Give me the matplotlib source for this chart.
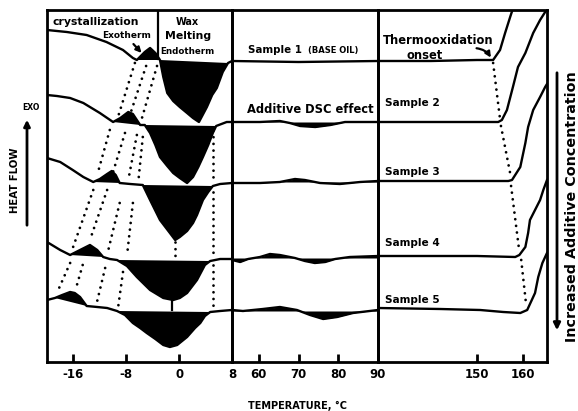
import numpy as np
import matplotlib
matplotlib.use("Agg")
import matplotlib.pyplot as plt
from matplotlib import font_manager

# ---- data (temperature in degC, heat flow in arbitrary units) ----
# panel 1: wax region (-20 .. 8 C)
s1_p1_t = [-20, -17, -14, -11, -8.5, -7, -6.4, -5.2, -4.4, -3.6, -2.9, -2.4, -1.8, -0.9, 0.1, 1.2, 2.1, 3.0, 4.2, 5.0, 5.7, 6.6, 7.4, 8]
s1_p1_hf = [332, 330, 327, 320, 312, 304, 302, 310, 314, 309, 302, 285, 269, 261, 255, 249, 244, 240, 255, 267, 274, 290, 299, 301]
s2_p1_t = [-20, -18.5, -16.5, -14.5, -12, -10, -8.9, -7.7, -7.0, -5.9, -5.2, -4.4, -3.6, -2.9, -1.8, -0.9, 0.1, 1.2, 2.1, 2.9, 3.6, 4.4, 5.1, 5.6, 7.2, 8]
s2_p1_hf = [267, 266, 264, 259, 249, 240, 244, 250, 248, 237, 237, 229, 217, 205, 196, 189, 184, 179, 185, 195, 205, 217, 229, 236, 240, 240]
s3_p1_t = [-20, -18, -16.1, -14.5, -13, -12, -10.9, -10.2, -9.6, -9, -7.4, -5.5, -4.4, -2.9, -1.4, -0.6, 0.1, 1.2, 2.1, 2.7, 3.6, 4.4, 5.1, 6.2, 8]
s3_p1_hf = [204, 200, 192, 185, 180, 183, 188, 191, 187, 179, 178, 177, 162, 142, 129, 122, 125, 131, 139, 147, 162, 170, 176, 178, 179]
s4_p1_t = [-20, -18, -16.5, -15, -13.5, -12.4, -11.5, -10.5, -9.4, -7.9, -6.4, -4.4, -2.4, -0.9, 0.1, 1.2, 2.7, 3.9, 4.7, 6.2, 8]
s4_p1_hf = [120, 112, 107, 112, 117, 112, 105, 103, 102, 96, 85, 72, 64, 62, 64, 69, 82, 97, 101, 103, 103]
s5_p1_t = [-20, -18.8, -17.7, -16.5, -15.8, -15, -14, -12.4, -10.9, -9.4, -8.2, -7, -5.9, -4.9, -3.6, -2.4, -1.4, -0.3, 1.2, 2.4, 3.2, 3.9, 4.7, 6.2, 8]
s5_p1_hf = [62, 64, 67, 70, 69, 65, 56, 55, 54, 51, 47, 39, 34, 29, 23, 17, 15, 17, 25, 34, 39, 46, 50, 51, 52]

# exotherm / endotherm temperature ranges (filled black)
exo_ranges = [(-6.4, -2.9), (-10, -5.9), (-13, -9), (-16.5, -11.5), (-18.8, -14)]
endo_ranges = [(-2.9, 7.4), (-5.2, 5.6), (-5.5, 5.1), (-9.4, 4.7), (-9.4, 4.7)]

# panel 2: additive region (53 .. 90 C)
s1_p2_t = [53.3, 70, 90]
s1_p2_hf = [301, 300, 301]
s2_p2_t = [53.3, 60.3, 65.3, 67.8, 70.4, 74.2, 78.0, 81.7, 90]
s2_p2_hf = [240, 240, 241, 239, 236, 235, 237, 240, 240]
s3_p2_t = [53.3, 60.3, 65.3, 69.1, 71.6, 75.4, 80.4, 85.5, 90]
s3_p2_hf = [179, 179, 180, 183, 182, 179, 178, 180, 181]
s4_p2_t = [53.3, 55.3, 57.3, 60.3, 62.8, 65.3, 69.1, 71.6, 74.1, 76.7, 79.2, 82.9, 90]
s4_p2_hf = [102, 100, 103, 105, 108, 107, 104, 101, 99, 100, 103, 105, 106]
s5_p2_t = [53.3, 56, 61, 65.3, 69.6, 72.9, 76.2, 79.7, 83.7, 90]
s5_p2_hf = [52, 51, 53, 55, 52, 47, 43, 45, 49, 52]
p2_base = [None, 240, 180, 104, 51]

# panel 3: thermooxidation region
s1_p3_t = [128.5, 140, 150, 153.5, 155.0, 156.1, 157.2, 157.7]
s1_p3_hf = [301, 301, 302, 302, 312, 329, 345, 352]
s2_p3_t = [128.5, 140, 150, 154.6, 155.4, 156.5, 157.8, 158.9, 160.5, 162.2, 163.7, 164.8]
s2_p3_hf = [240, 240, 240, 240, 242, 252, 275, 295, 309, 329, 342, 350]
s3_p3_t = [128.5, 140, 150, 156.8, 157.6, 159.4, 160.5, 161.1, 162.2, 163.7, 164.8, 165.2]
s3_p3_hf = [181, 181, 181, 181, 182, 195, 219, 235, 252, 265, 275, 278]
s4_p3_t = [128.5, 140, 150, 158.3, 159.2, 160.5, 161.1, 161.5, 162.6, 163.7, 164.4, 165.2]
s4_p3_hf = [106, 106, 106, 105, 107, 115, 129, 142, 152, 162, 172, 182]
s5_p3_t = [128.5, 142, 150.7, 155.7, 159.4, 160.9, 162.6, 163.3, 164.2, 165.2]
s5_p3_hf = [54, 53, 52, 50, 49, 52, 69, 85, 99, 109]

# dotted guide lines (t0, hf0, t1, hf1)
p1_dots = [(-6.7, 299, -9.4, 242), (-5.0, 296, -7.3, 250), (-3.35, 296, -5.8, 240),
           (-10.5, 232, -12.4, 187), (-8.2, 229, -10.0, 190), (-6.4, 227, -7.7, 182), (-5.5, 225, -6.2, 179),
           (-13.0, 172, -16.1, 114), (-10.9, 172, -13.5, 122), (-9.0, 159, -10.9, 107), (-7.0, 159, -7.9, 106),
           (-16.5, 99, -18.5, 69), (-14.6, 97, -15.6, 74), (-11.2, 94, -12.4, 61), (-8.5, 90, -9.25, 54),
           (5.1, 232, 5.1, 180), (5.1, 170, 5.1, 106), (5.1, 97, 5.1, 54), (-0.6, 120, -0.6, 105)]
p3_dots = [(153.5, 299, 155.0, 243), (155.2, 236, 157.4, 184), (157.4, 176, 159.2, 110), (159.6, 102, 160.7, 56)]

p1_ticks, p1_labels = [-16, -8, 0, 8], ["-16", "-8", "0", "8"]
p2_ticks, p2_labels = [60, 70, 80, 90], ["60", "70", "80", "90"]
p3_ticks, p3_labels = [150, 160], ["150", "160"]
sample_names = ["Sample 2", "Sample 3", "Sample 4", "Sample 5"]
sample_label_hf = [259, 190, 119, 62]

names = {f.name for f in font_manager.fontManager.ttflist}
FONT = "Liberation Sans Narrow" if "Liberation Sans Narrow" in names else "DejaVu Sans"
plt.rcParams["font.family"] = FONT
plt.rcParams["font.weight"] = "bold"

W, Hpx = 578, 411
fig = plt.figure(figsize=(W / 100, Hpx / 100), dpi=100)
bot = 1 - 362 / Hpx
hgt = 352 / Hpx
ax1 = fig.add_axes([47 / W, bot, 185 / W, hgt])
ax2 = fig.add_axes([232 / W, bot, 146 / W, hgt])
ax3 = fig.add_axes([378 / W, bot, 169 / W, hgt])

for ax, xl, tk, lb in [(ax1, (-20, 8), p1_ticks, p1_labels),
                       (ax2, (53.25, 90), p2_ticks, p2_labels),
                       (ax3, (128.5, 165.2), p3_ticks, p3_labels)]:
    ax.set_xlim(*xl)
    ax.set_ylim(0, 352)
    ax.set_yticks([])
    ax.set_xticks(tk)
    ax.set_xticklabels(lb, fontsize=8.5, fontweight="bold")
    ax.tick_params(axis="x", direction="in", length=6, width=2, pad=4)
    for s in ax.spines.values():
        s.set_linewidth(2)
    ax.patch.set_alpha(0)

LW = 1.7
p1 = [(s1_p1_t, s1_p1_hf), (s2_p1_t, s2_p1_hf), (s3_p1_t, s3_p1_hf), (s4_p1_t, s4_p1_hf), (s5_p1_t, s5_p1_hf)]
for (t, hf), ex, en in zip(p1, exo_ranges, endo_ranges):
    t = np.array(t)
    hf = np.array(hf)
    ax1.plot(t, hf, color="k", lw=LW, solid_joinstyle="round")
    m = (t >= ex[0]) & (t <= ex[1])
    ax1.fill(t[m], hf[m], color="k", lw=0)
    m = (t >= en[0]) & (t <= en[1])
    ax1.fill(t[m], hf[m], color="k", lw=0)

p2 = [(s1_p2_t, s1_p2_hf), (s2_p2_t, s2_p2_hf), (s3_p2_t, s3_p2_hf), (s4_p2_t, s4_p2_hf), (s5_p2_t, s5_p2_hf)]
for (t, hf), base in zip(p2, p2_base):
    ax2.plot(t, hf, color="k", lw=LW, solid_joinstyle="round")
    if base is not None:
        ax2.fill_between(t, hf, base, color="k", lw=0)

p3 = [(s1_p3_t, s1_p3_hf), (s2_p3_t, s2_p3_hf), (s3_p3_t, s3_p3_hf), (s4_p3_t, s4_p3_hf), (s5_p3_t, s5_p3_hf)]
for t, hf in p3:
    ax3.plot(t, hf, color="k", lw=LW, solid_joinstyle="round")

dot_style = dict(color="k", lw=2.0, linestyle=(0, (0.01, 2.4)), dash_capstyle="round")
for t0, h0, t1, h1 in p1_dots:
    ax1.plot([t0, t1], [h0, h1], **dot_style)
for t0, h0, t1, h1 in p3_dots:
    ax3.plot([t0, t1], [h0, h1], **dot_style)
ax1.plot([-1.1, -1.1], [62, 52], color="k", lw=1.6)

# box around the wax melting label
ax1.plot([-3.2, -3.2], [303, 352], color="k", lw=1.6)

# annotations
ax1.text(-19.2, 340, "crystallization", fontsize=7.8, ha="left", va="center")
ax1.text(-11.6, 327, "Exotherm", fontsize=6.5, ha="left", va="center")
ax1.annotate("", xy=(-5.4, 307), xytext=(-7.2, 320),
             arrowprops=dict(arrowstyle="-|>", color="k", lw=1.6, mutation_scale=8))
ax1.text(1.2, 340, "Wax", fontsize=7, ha="center", va="center")
ax1.text(1.3, 326, "Melting", fontsize=7.8, ha="center", va="center")
ax1.text(1.2, 311, "Endotherm", fontsize=6.3, ha="center", va="center")

ax2.text(57.2, 312, "Sample 1", fontsize=7.4, ha="left", va="center")
ax2.text(72.3, 312, "(BASE OIL)", fontsize=6, ha="left", va="center")
ax2.text(57.0, 253, "Additive DSC effect", fontsize=8.3, ha="left", va="center")

ax3.text(129.6, 322, "Thermooxidation", fontsize=8.3, ha="left", va="center")
ax3.text(138.7, 307, "onset", fontsize=8.3, ha="center", va="center")
ax3.annotate("", xy=(153.3, 302), xytext=(149.3, 314),
             arrowprops=dict(arrowstyle="-|>", color="k", lw=1.6, mutation_scale=8,
                             connectionstyle="arc3,rad=-0.3"))
for name, h in zip(sample_names, sample_label_hf):
    ax3.text(130.0, h, name, fontsize=7.6, ha="left", va="center")

# outer labels
fig.text(297 / W, 1 - 406 / Hpx, "TEMPERATURE, \u00b0C", fontsize=7, ha="center", va="center")
fig.text(15 / W, 1 - 180 / Hpx, "HEAT FLOW", fontsize=7.3, rotation=90, ha="center", va="center")
fig.text(31 / W, 1 - 108 / Hpx, "EXO", fontsize=5.5, ha="center", va="center")
fig.add_artist(matplotlib.patches.FancyArrowPatch((27 / W, 1 - 228 / Hpx), (27 / W, 1 - 117 / Hpx),
                                                   transform=fig.transFigure, arrowstyle="-|>",
                                                   mutation_scale=9, lw=2, color="k"))
fig.add_artist(matplotlib.patches.FancyArrowPatch((557 / W, 1 - 70 / Hpx), (557 / W, 1 - 333 / Hpx),
                                                   transform=fig.transFigure, arrowstyle="-|>",
                                                   mutation_scale=10, lw=2, color="k"))
fig.text(572 / W, 1 - 207 / Hpx, "Increased Additive Concentration", fontsize=10.3,
         rotation=90, ha="center", va="center")

fig.savefig("out.png", dpi=100)
